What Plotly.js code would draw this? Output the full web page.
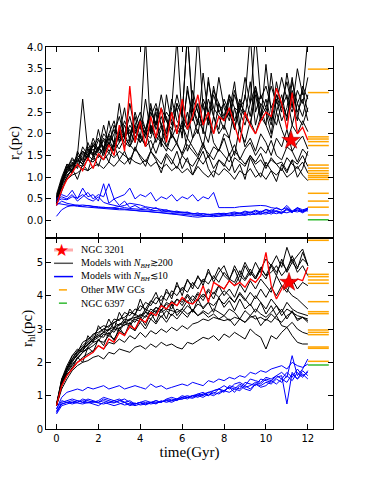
<!DOCTYPE html>
<html>
<head>
<meta charset="utf-8">
<script src="https://cdn.plot.ly/plotly-3.0.1.min.js"></script>
<style>
  body { margin: 0; background: white; }
  #chart { width: 371px; height: 477px; }
</style>
</head>
<body>
<div id="chart"></div>
<script>
// time grid (Gyr)
var time = [0,0.25,0.5,0.75,1,1.25,1.5,1.75,2,2.25,2.5,2.75,3,3.25,3.5,3.75,4,4.25,4.5,4.75,5,5.25,5.5,5.75,6,6.25,6.5,6.75,7,7.25,7.5,7.75,8,8.25,8.5,8.75,9,9.25,9.5,9.75,10,10.25,10.5,10.75,11,11.25,11.5,11.75,12];

// core radius, models with many BHs
var rcBH = [
  [0.45,0.75,0.95,1.05,1.1,1.2,1.15,1.25,1.3,1.2,1.35,1.25,1.4,1.3,1.45,1.35,1.3,1.4,1.25,1.35,1.2,1.3,1.15,1.25,1.1,1.2,1.05,1.25,1.1,1.0,1.15,1.05,1.2,1.1,0.95,1.15,1.05,1.2,1.0,1.1,0.95,1.15,1.05,1.2,1.0,1.1,1.25,1.05,0.92],
  [0.5,0.85,1.05,1.15,1.3,1.25,1.4,1.35,1.5,1.4,1.55,1.45,1.6,1.5,1.4,1.65,1.5,1.35,1.6,1.45,1.3,1.55,1.4,1.2,1.5,1.35,1.25,1.45,1.3,1.5,1.2,1.4,1.3,1.15,1.45,1.35,1.25,1.5,1.3,1.4,1.2,1.45,1.3,1.35,1.15,1.4,1.3,1.5,1.25],
  [0.4,0.9,1.2,1.1,1.45,1.3,1.6,1.5,1.7,1.55,1.9,1.6,1.8,2.0,1.7,1.95,1.8,2.1,1.6,1.9,2.2,1.7,2.0,1.8,2.3,1.6,1.9,2.1,1.7,2.4,1.8,1.6,2.0,1.9,1.5,2.2,1.7,1.9,1.6,2.0,1.8,1.5,1.9,1.7,2.1,1.6,1.8,1.95,1.65],
  [0.55,0.95,1.3,1.25,1.5,2.8,1.6,1.7,1.9,1.6,2.0,2.3,1.8,2.2,1.9,2.5,2.1,4.2,2.0,2.6,2.2,1.9,2.8,2.3,2.1,3.0,2.4,2.0,2.7,2.2,3.1,2.5,2.3,2.9,2.1,2.6,2.4,3.2,2.2,2.7,2.5,2.0,2.8,2.3,2.6,3.3,2.4,2.2,2.6],
  [0.45,0.8,1.15,1.35,1.2,1.55,1.45,1.75,1.6,1.9,1.7,2.2,1.85,2.0,2.4,1.9,2.2,2.0,2.7,2.1,2.4,2.0,2.6,4.2,2.3,2.1,2.8,2.5,2.2,3.2,2.6,2.4,2.1,2.8,2.3,2.7,2.5,2.2,3.0,2.4,2.6,2.2,2.9,2.5,3.4,2.7,2.3,3.1,2.8],
  [0.5,0.9,1.1,1.25,1.4,1.3,1.5,1.65,1.45,1.7,1.55,1.8,1.65,1.9,1.75,1.6,2.0,1.7,1.85,1.55,1.9,1.7,1.6,1.8,1.5,1.75,1.6,1.45,1.7,1.55,1.4,1.65,1.5,1.35,1.6,1.45,1.3,1.5,1.35,1.55,1.25,1.4,1.3,1.15,1.45,1.3,1.2,1.35,1.1],
  [0.4,0.85,1.2,1.4,1.35,1.6,1.5,1.8,1.65,2.0,1.85,2.1,1.9,2.3,2.0,2.2,2.5,2.1,2.4,2.7,2.2,2.5,2.3,2.9,2.4,4.3,2.6,2.3,2.8,2.5,3.0,2.7,2.4,2.9,2.6,2.5,3.3,2.7,4.3,2.8,3.1,2.6,2.9,2.7,3.2,2.6,3.5,2.9,4.2],
  [0.5,0.8,1.0,1.2,1.4,1.3,1.5,1.4,1.7,1.5,1.8,1.6,2.0,1.7,1.9,2.2,1.8,2.0,1.9,2.3,1.8,2.1,2.5,2.0,2.2,1.9,2.6,2.2,3.4,2.4,2.0,2.7,2.3,2.5,2.1,2.8,2.4,2.2,2.9,2.3,3.6,2.5,2.2,2.7,2.4,3.0,2.5,2.8,2.3],
  [0.45,0.95,1.25,1.15,1.45,1.6,1.4,1.75,1.55,1.65,2.0,1.8,2.7,1.9,2.1,1.8,2.3,2.0,2.2,1.8,2.1,2.4,1.9,2.2,2.0,2.5,1.9,2.3,2.1,1.8,2.4,2.0,2.2,1.9,2.6,2.1,1.8,2.3,2.0,2.4,2.2,1.9,2.5,2.1,1.8,2.2,2.0,2.3,2.05],
  [0.55,0.9,1.1,1.3,1.25,1.45,1.7,1.5,1.6,1.85,1.6,1.75,2.05,1.8,1.7,2.1,1.9,1.75,2.2,1.95,1.8,1.6,2.0,1.75,1.55,1.9,1.7,1.5,1.8,1.45,1.7,1.6,1.9,1.5,1.75,1.4,1.65,1.8,1.5,1.7,1.55,1.85,1.5,1.4,1.7,1.6,1.35,1.65,1.5],
  [0.4,0.85,1.15,1.3,1.5,1.4,1.65,1.55,1.85,1.7,1.95,1.8,2.1,1.9,2.2,2.0,2.35,2.1,2.5,2.2,2.6,2.3,2.1,2.7,2.4,4.3,2.5,4.3,2.6,2.3,2.9,2.5,2.7,2.4,3.0,2.6,2.8,4.3,2.5,2.9,2.6,3.1,2.7,3.3,2.8,2.5,3.0,2.7,3.3],
  [0.6,1.0,1.3,1.1,1.6,1.35,1.8,1.5,2.1,1.6,2.3,1.7,2.0,2.6,1.8,2.4,1.9,2.8,2.0,2.5,1.7,2.9,2.2,2.6,1.9,3.1,2.3,2.7,2.0,3.3,2.4,2.1,2.8,2.5,3.2,2.2,2.9,2.4,3.1,2.6,2.2,3.4,2.5,2.9,2.3,3.2,2.7,2.4,2.9],
  [0.35,0.7,1.0,1.2,0.95,1.3,1.15,1.5,1.25,1.6,1.35,1.75,1.4,1.6,1.3,1.7,1.45,1.25,1.6,1.4,1.1,1.5,1.3,1.6,1.2,1.45,1.05,1.35,1.6,1.2,1.0,1.4,1.25,1.55,1.1,1.3,0.95,1.45,1.2,1.0,1.35,1.15,0.9,1.3,1.1,1.4,1.0,1.2,1.6],
  [0.5,0.95,1.2,1.45,1.3,1.7,1.5,1.9,1.6,2.2,1.75,2.0,2.4,1.9,2.7,2.1,2.3,1.9,2.6,2.2,2.9,2.3,2.0,2.7,2.4,2.2,3.0,2.5,2.2,2.8,2.4,3.3,2.6,2.3,2.9,2.5,2.2,2.7,3.1,2.4,2.8,2.3,3.2,2.6,2.9,2.2,2.7,3.0,2.5]
];

// core radius, models with few BHs
var rcNoBH = [
  [0.45,0.55,0.5,0.6,0.45,0.55,0.65,0.5,0.6,0.55,0.85,0.5,0.55,0.6,0.75,0.5,0.6,0.55,0.65,0.45,0.55,0.5,0.6,0.45,0.55,0.5,0.6,0.45,0.55,0.5,0.65,0.3,0.3,0.3,0.3,0.32,0.33,0.34,0.35,0.35,0.34,0.3,0.28,0.25,0.3,0.2,0.28,0.22,0.3],
  [0.5,0.6,0.55,0.7,0.5,0.75,0.55,0.6,0.45,0.85,0.4,0.5,0.35,0.45,0.3,0.35,0.28,0.3,0.25,0.3,0.22,0.25,0.2,0.22,0.18,0.2,0.15,0.18,0.12,0.15,0.12,0.14,0.15,0.12,0.16,0.18,0.14,0.2,0.15,0.22,0.18,0.25,0.2,0.16,0.28,0.2,0.24,0.18,0.25],
  [0.1,0.25,0.32,0.35,0.33,0.32,0.3,0.3,0.28,0.28,0.27,0.26,0.25,0.25,0.24,0.23,0.22,0.22,0.2,0.2,0.18,0.18,0.17,0.16,0.15,0.14,0.13,0.12,0.1,0.1,0.09,0.1,0.11,0.12,0.11,0.13,0.12,0.15,0.14,0.17,0.15,0.19,0.16,0.2,0.18,0.22,0.2,0.24,0.22],
  [0.4,0.38,0.35,0.34,0.36,0.33,0.35,0.32,0.3,0.31,0.29,0.3,0.32,0.35,0.4,0.38,0.36,0.32,0.3,0.28,0.26,0.25,0.22,0.2,0.2,0.18,0.16,0.15,0.16,0.14,0.15,0.17,0.15,0.18,0.2,0.17,0.22,0.19,0.24,0.2,0.26,0.22,0.3,0.24,0.35,0.22,0.3,0.25,0.28],
  [0.35,0.45,0.4,0.38,0.35,0.36,0.34,0.33,0.32,0.3,0.3,0.28,0.28,0.26,0.25,0.24,0.22,0.22,0.2,0.19,0.18,0.16,0.15,0.14,0.12,0.1,0.09,0.08,0.09,0.1,0.12,0.1,0.13,0.11,0.14,0.12,0.16,0.13,0.18,0.14,0.2,0.15,0.22,0.17,0.25,0.18,0.3,0.2,0.26],
  [0.45,0.5,0.48,0.55,0.52,0.6,0.5,0.45,0.55,0.42,0.38,0.35,0.33,0.3,0.28,0.27,0.25,0.25,0.24,0.22,0.22,0.2,0.2,0.18,0.17,0.17,0.16,0.15,0.16,0.14,0.15,0.16,0.17,0.15,0.18,0.16,0.2,0.17,0.22,0.18,0.25,0.2,0.23,0.19,0.27,0.21,0.25,0.2,0.28]
];

// NGC 3201 best model, core radius
var rcBest = [0.35,0.7,0.95,1.1,1.3,1.15,1.45,1.2,1.55,1.4,1.75,1.5,2.2,1.6,3.1,1.8,2.3,1.7,2.4,1.9,2.6,1.8,2.5,2.0,2.8,2.1,2.4,2.9,2.2,2.5,2.0,2.4,2.3,2.6,2.2,1.8,2.5,2.2,2.0,2.3,2.5,2.4,3.05,2.7,2.1,2.95,2.0,2.15,1.85];

// half-light radius, models with many BHs
var rhlBH = [
  [0.7,1.2,1.5,1.75,1.9,2.0,2.05,2.15,2.2,2.1,2.3,2.25,2.4,2.35,2.3,2.45,2.5,2.4,2.55,2.45,2.6,2.5,2.55,2.45,2.4,2.6,2.55,2.65,2.75,2.7,2.8,2.65,2.85,2.75,2.9,2.8,2.7,3.0,2.85,2.75,2.4,2.8,2.7,2.9,3.05,2.8,2.6,2.55,2.55],
  [0.7,1.3,1.6,1.85,2.0,2.15,2.25,2.35,2.5,2.4,2.6,2.55,2.7,2.6,2.8,2.7,2.9,2.75,2.95,2.85,3.0,2.9,3.05,2.95,3.1,3.0,3.15,3.2,3.3,3.25,3.35,3.3,3.25,3.3,3.1,3.3,3.2,3.35,3.4,3.1,3.3,3.2,3.4,3.1,3.05,3.2,3.0,2.9,2.85],
  [0.75,1.35,1.7,1.95,2.1,2.3,2.4,2.5,2.65,2.6,2.8,2.7,2.95,2.85,3.05,2.95,3.2,3.0,3.3,3.15,3.4,3.2,3.45,3.3,3.5,3.35,3.6,3.4,3.55,3.45,3.6,3.5,3.4,3.6,3.5,3.3,3.55,3.4,3.6,3.45,3.35,3.5,3.7,3.4,3.6,3.5,3.4,3.35,3.3],
  [0.7,1.4,1.8,2.05,2.2,2.45,2.5,2.7,2.8,2.75,3.0,2.9,3.15,3.1,3.3,3.2,3.45,3.35,3.6,3.5,3.75,3.6,3.85,3.7,3.9,3.8,4.0,3.85,4.05,3.9,4.1,3.95,4.15,4.0,3.8,4.1,3.9,3.7,4.0,3.8,3.6,3.9,3.7,3.5,3.8,3.6,3.5,3.45,3.4],
  [0.7,1.45,1.85,2.1,2.35,2.5,2.65,2.85,2.9,3.0,3.1,3.2,3.3,3.35,3.5,3.45,3.7,3.6,3.85,3.75,4.0,3.85,4.15,4.0,4.25,4.1,4.4,4.2,4.5,4.35,4.6,4.4,4.7,4.5,4.4,4.75,4.5,4.8,4.55,4.85,4.6,4.7,4.9,4.6,4.8,5.1,4.7,4.9,4.6],
  [0.75,1.5,1.9,2.2,2.3,2.6,2.7,2.8,3.0,3.1,3.05,3.3,3.25,3.5,3.4,3.6,3.55,3.8,3.7,3.95,3.85,4.1,4.0,4.3,4.15,4.45,4.3,4.55,4.4,4.7,4.5,4.85,4.6,4.45,4.9,4.6,5.0,4.7,4.5,4.8,5.1,4.9,5.2,4.85,5.45,5.0,5.2,5.4,4.9],
  [0.7,1.35,1.75,2.0,2.25,2.35,2.55,2.65,2.75,2.9,2.85,3.05,3.0,3.2,3.15,3.35,3.3,3.5,3.4,3.65,3.55,3.75,3.6,3.9,3.7,4.0,3.75,4.05,3.85,4.15,3.9,4.3,4.0,4.2,3.95,4.35,4.1,4.45,4.2,4.5,4.3,4.1,4.6,4.3,4.2,4.0,3.9,3.75,3.6],
  [0.7,1.3,1.7,1.9,2.15,2.3,2.45,2.6,2.65,2.85,2.8,3.0,2.95,3.15,3.1,3.3,3.2,3.4,3.3,3.5,3.35,3.55,3.4,3.6,3.5,3.7,3.55,3.75,3.65,3.8,3.7,3.9,3.75,3.95,3.8,4.05,3.85,4.1,3.9,4.2,3.95,4.25,4.0,4.3,4.1,4.5,4.2,4.4,4.3],
  [0.7,1.4,1.8,2.1,2.3,2.45,2.6,2.75,2.85,3.0,2.95,3.2,3.1,3.3,3.25,3.45,3.35,3.6,3.5,3.65,3.55,3.8,3.7,3.9,3.8,4.05,3.85,4.1,3.95,4.2,4.05,4.3,4.2,4.45,4.3,4.6,4.45,4.7,4.5,4.8,4.6,4.95,4.7,5.0,4.75,5.2,4.85,5.1,4.95],
  [0.7,1.45,1.8,2.05,2.25,2.4,2.55,2.7,2.8,2.9,3.0,3.05,3.15,3.2,3.3,3.35,3.4,3.5,3.45,3.55,3.5,3.6,3.55,3.5,3.6,3.45,3.55,3.4,3.5,3.35,3.45,3.3,3.4,3.25,3.35,3.3,3.2,3.4,3.3,3.35,3.25,3.45,3.3,3.2,3.4,3.5,3.3,3.35,3.25],
  [0.7,1.5,1.8,2.2,2.4,2.3,2.8,2.6,3.1,2.9,3.3,3.0,3.5,3.2,3.6,3.4,3.9,3.5,3.8,4.1,3.7,4.2,3.9,4.4,4.0,4.5,4.2,4.6,4.3,4.8,4.4,4.7,4.9,4.5,4.8,4.4,4.9,4.6,5.0,4.7,4.5,4.9,4.6,5.1,4.7,5.0,4.8,5.3,4.9],
  [0.7,1.3,1.65,1.8,2.15,2.0,2.45,2.3,2.7,2.5,2.9,2.65,3.05,2.8,3.2,2.95,3.35,3.1,3.5,3.2,3.6,3.3,3.75,3.4,3.6,3.85,3.5,3.9,3.6,3.8,3.5,3.95,3.65,3.85,3.55,3.9,3.6,3.75,3.5,3.8,3.45,3.7,3.4,3.6,3.3,3.55,3.25,3.35,3.2]
];

// half-light radius, models with few BHs
var rhlNoBH = [
  [0.6,0.95,1.1,1.15,1.2,1.15,1.25,1.2,1.25,1.3,1.2,1.25,1.3,1.2,1.25,1.3,1.25,1.2,1.35,1.25,1.3,1.2,1.25,1.3,1.35,1.3,1.4,1.35,1.3,1.45,1.4,1.5,1.45,1.55,1.5,1.6,1.55,1.7,1.65,1.75,1.7,1.8,1.85,1.9,1.8,2.0,1.9,1.85,1.95],
  [0.5,0.8,0.85,0.9,0.85,0.8,0.9,0.85,0.8,0.9,0.85,0.8,0.85,0.9,0.8,0.75,0.8,0.75,0.8,0.85,0.8,0.9,0.95,0.9,1.0,0.95,1.0,1.0,1.05,1.0,1.1,1.05,1.15,1.1,1.2,1.15,1.3,1.2,1.35,1.3,1.4,1.35,1.5,1.4,1.6,1.45,1.7,1.55,1.75],
  [0.55,0.75,0.8,0.85,0.8,0.9,0.85,0.8,0.85,0.95,0.9,0.85,0.9,0.8,0.85,0.75,0.8,0.85,0.8,0.75,0.85,0.8,0.85,0.9,0.95,1.0,0.95,1.05,1.1,1.0,1.15,1.2,1.1,1.3,1.25,1.2,1.4,1.35,1.3,1.5,1.45,1.4,1.55,1.6,0.75,1.7,1.5,1.65,1.5],
  [0.6,0.85,0.8,0.75,0.8,0.85,0.8,0.75,0.7,0.8,0.75,0.7,0.75,0.8,0.7,0.75,0.8,0.72,0.78,0.85,0.8,0.88,0.85,0.9,0.9,0.95,1.0,0.95,1.05,1.1,1.05,1.2,1.15,1.25,1.2,1.35,1.25,1.3,1.4,1.35,1.5,1.45,1.6,1.5,1.7,1.55,1.8,1.6,1.7],
  [0.5,0.75,0.8,0.8,0.85,0.8,0.78,0.82,0.8,0.85,0.8,0.78,0.85,0.8,0.75,0.78,0.72,0.75,0.8,0.78,0.82,0.85,0.8,0.88,0.9,0.95,0.92,1.0,0.95,1.05,1.0,1.1,1.15,1.25,1.1,1.3,1.2,1.15,1.35,1.25,1.3,1.45,1.35,1.5,1.4,1.65,1.5,1.75,1.6],
  [0.45,0.7,0.75,0.8,0.78,0.75,0.8,0.82,0.78,0.75,0.8,0.85,0.78,0.72,0.75,0.7,0.75,0.8,0.75,0.78,0.8,0.85,0.9,0.85,0.95,0.9,1.0,1.05,1.0,1.1,1.15,1.2,1.3,1.2,1.35,1.4,1.3,1.5,1.45,1.4,1.55,1.5,1.6,1.7,1.55,2.2,1.6,1.8,2.1]
];

// NGC 3201 best model, half-light radius
var rhlBest = [0.7,1.3,1.6,1.8,2.0,2.1,2.2,2.3,2.5,2.4,2.7,2.6,2.9,2.8,3.1,3.0,3.3,3.2,3.5,3.4,3.7,3.6,3.8,3.7,3.95,3.8,3.75,3.9,4.3,3.8,4.4,4.3,4.2,4.45,4.3,4.4,4.25,4.5,4.4,4.6,5.3,4.3,3.9,4.2,4.5,4.35,4.5,4.45,4.85];

// observed NGC 3201
var obsAge = 11.2;
var obsRc = 1.85;
var obsRhl = 4.4;

// other Milky Way GCs (drawn between 12 and 13 Gyr)
var mwRc = [3.49,2.95,1.93,1.88,1.82,1.73,1.28,1.21,1.15,1.09,1.04,1.0,0.95,0.63,0.45,0.31,0.13];
var mwRhl = [5.72,5.66,4.64,4.57,4.47,4.37,3.82,3.52,3.46,2.97,2.9,2.83,2.46,2.42,2.03];
var ngc6397Rc = 0.02;
var ngc6397Rhl = 1.92;
var tickSpan = [12, 13];

// legend entries
var legendLabels = ['NGC 3201', 'Models with <i>N</i><sub><i>BH</i></sub>≳200', 'Models with <i>N</i><sub><i>BH</i></sub>≲10', 'Other MW GCs', 'NGC 6397'];
var legendColors = ['rgba(255,90,90,0.5)', '#555555', '#0000ff', '#ffa500', '#33bb33'];

var serif = 'Liberation Serif, DejaVu Serif, serif';
var data = [];

function addLines(sets, color, xa, ya) {
    sets.forEach(function (ys) {
        data.push({
            x: time, y: ys, xaxis: xa, yaxis: ya,
            mode: 'lines', type: 'scatter',
            line: {color: color, width: 1}, hoverinfo: 'skip'
        });
    });
}

function ticksTrace(vals, color, xa, ya) {
    var xs = [], ys = [];
    vals.forEach(function (v) {
        xs.push(tickSpan[0], tickSpan[1], null);
        ys.push(v, v, null);
    });
    return {
        x: xs, y: ys, xaxis: xa, yaxis: ya, mode: 'lines', type: 'scatter',
        line: {color: color, width: 1.5}, hoverinfo: 'skip'
    };
}

var starMarker = {symbol: 'star', size: 14, color: '#ff0000', line: {color: '#990000', width: 0.5}};

// top panel (r_c)
addLines(rcBH, '#000000', 'x2', 'y2');
addLines(rcNoBH, '#0000ff', 'x2', 'y2');
data.push({x: time, y: rcBest, xaxis: 'x2', yaxis: 'y2', mode: 'lines',
    line: {color: '#ff0000', width: 1.3}, hoverinfo: 'skip'});
data.push({x: [obsAge], y: [obsRc], xaxis: 'x2', yaxis: 'y2', mode: 'markers',
    marker: starMarker, hoverinfo: 'skip'});
data.push(ticksTrace(mwRc, '#ffa500', 'x2', 'y2'));
data.push(ticksTrace([ngc6397Rc], '#33bb33', 'x2', 'y2'));

// bottom panel (r_hl)
addLines(rhlBH, '#000000', 'x', 'y');
addLines(rhlNoBH, '#0000ff', 'x', 'y');
data.push({x: time, y: rhlBest, xaxis: 'x', yaxis: 'y', mode: 'lines',
    line: {color: '#ff0000', width: 1.3}, hoverinfo: 'skip'});
data.push({x: [obsAge - 0.1], y: [obsRhl], xaxis: 'x', yaxis: 'y', mode: 'markers',
    marker: starMarker, hoverinfo: 'skip'});
data.push(ticksTrace(mwRhl, '#ffa500', 'x', 'y'));
data.push(ticksTrace([ngc6397Rhl], '#33bb33', 'x', 'y'));

// hand-placed legend (matplotlib-like compact rows) in paper coordinates
var shapes = [], annotations = [];
var rowY = 0.4686, rowStep = 0.0348;
legendLabels.forEach(function (lab, i) {
    var y = rowY - i * rowStep;
    var short = i >= 3;
    shapes.push({type: 'line', xref: 'paper', yref: 'paper',
        x0: short ? 0.045 : 0.028, x1: short ? 0.073 : 0.094, y0: y, y1: y,
        line: {color: legendColors[i], width: i == 0 ? 3 : 1.5}});
    annotations.push({xref: 'paper', yref: 'paper', x: 0.115, y: y,
        xanchor: 'left', yanchor: 'middle', showarrow: false, text: lab,
        font: {family: serif, size: 10, color: '#000'}});
});
annotations.push({xref: 'paper', yref: 'paper', x: 0.0557, y: rowY,
    xanchor: 'center', yanchor: 'middle', showarrow: false, text: '★',
    font: {family: 'DejaVu Sans', size: 17, color: '#ff0000'}});

// y axis titles, placed like the matplotlib labels
var titleFont = {family: serif, size: 15, color: '#000'};
annotations.push({xref: 'paper', yref: 'paper', x: -0.108, y: 0.749, textangle: -90,
    xanchor: 'center', yanchor: 'middle', showarrow: false,
    text: 'r<sub>c</sub>(pc)', font: titleFont});
annotations.push({xref: 'paper', yref: 'paper', x: -0.063, y: 0.264, textangle: -90,
    xanchor: 'center', yanchor: 'middle', showarrow: false,
    text: 'r<sub>hl</sub>(pc)', font: titleFont});

var tickFont = {family: 'DejaVu Sans, sans-serif', size: 10, color: '#000'};
var axisBase = {
    showline: true, linecolor: '#000', linewidth: 1, mirror: 'ticks',
    ticks: 'inside', ticklen: 5, tickwidth: 1, tickcolor: '#000',
    showgrid: false, zeroline: false, tickfont: tickFont
};

var layout = {
    width: 371, height: 477,
    margin: {l: 46, r: 38, t: 47, b: 48},
    paper_bgcolor: '#fff', plot_bgcolor: '#fff',
    showlegend: false,
    shapes: shapes,
    annotations: annotations,
    xaxis: Object.assign({}, axisBase, {
        domain: [0, 1], anchor: 'y', range: [-0.5, 13.2],
        tickvals: [0, 2, 4, 6, 8, 10, 12],
        title: {text: 'time(Gyr)', font: titleFont, standoff: 2}
    }),
    xaxis2: Object.assign({}, axisBase, {
        domain: [0, 1], anchor: 'y2', matches: 'x', range: [-0.5, 13.2],
        tickvals: [0, 2, 4, 6, 8, 10, 12], showticklabels: false
    }),
    yaxis: Object.assign({}, axisBase, {
        domain: [0, 0.5], anchor: 'x', range: [0, 5.73],
        tickvals: [0, 1, 2, 3, 4, 5]
    }),
    yaxis2: Object.assign({}, axisBase, {
        domain: [0.5, 1], anchor: 'x2', range: [-0.4, 4.0],
        tickvals: [0, 0.5, 1, 1.5, 2, 2.5, 3, 3.5, 4], tickformat: '.1f'
    })
};

Plotly.newPlot('chart', data, layout, {displayModeBar: false, staticPlot: true});
</script>
</body>
</html>
